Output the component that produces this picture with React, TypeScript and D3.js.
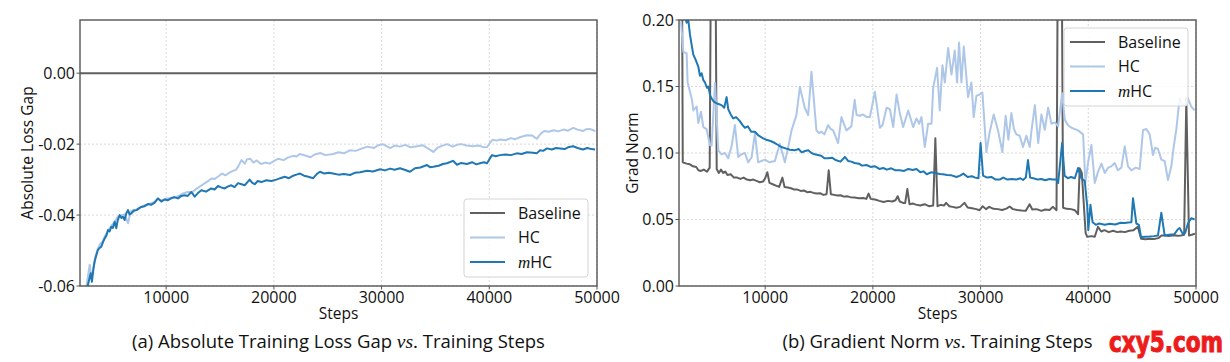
import React from 'react'
import * as d3 from 'd3'

type Pt = [number, number]

// ---- data ----
const seriesNames = ['Baseline', 'HC', 'mHC']
const seriesColors = ['#606060', '#aec7e8', '#1f77b4']

const stepTicks = [10000, 20000, 30000, 40000, 50000]
const stepTickLabels = ['10000', '20000', '30000', '40000', '50000']
const lossTicks = [0, -0.02, -0.04, -0.06]
const lossTickLabels = ['0.00', '-0.02', '-0.04', '-0.06']
const gradTicks = [0, 0.05, 0.1, 0.15, 0.2]
const gradTickLabels = ['0.00', '0.05', '0.10', '0.15', '0.20']

const lossBaseline: Pt[] = [[2000, 0], [50000, 0]]

const lossHC: Pt[] = [
  [2500, -0.0625], [2700, -0.058], [2900, -0.054], [3050, -0.0575], [3200, -0.056], [3400, -0.052],
  [3650, -0.0495], [3900, -0.048], [4100, -0.0475], [4300, -0.046], [4600, -0.0445], [4900, -0.043],
  [5200, -0.042], [5500, -0.0405], [5800, -0.0402], [6100, -0.0398], [6300, -0.041], [6460, -0.0423],
  [6700, -0.039], [7000, -0.0385], [7300, -0.0386], [7700, -0.0377], [8000, -0.0372], [8400, -0.0369],
  [8900, -0.0363], [9200, -0.0355], [9600, -0.0358], [10000, -0.0354], [10400, -0.0352], [10800, -0.0349],
  [11100, -0.0347], [11500, -0.034], [12000, -0.0335], [12400, -0.0336], [12800, -0.0326], [13200, -0.0318],
  [13600, -0.031], [14000, -0.0302], [14200, -0.0297], [14500, -0.0298], [14800, -0.0292], [15200, -0.0283],
  [15500, -0.0288], [15800, -0.0282], [16100, -0.0277], [16500, -0.0272], [16700, -0.0262], [17000, -0.0245],
  [17300, -0.0255], [17500, -0.0243], [17800, -0.0241], [18100, -0.0252], [18400, -0.0246], [18800, -0.0256],
  [19200, -0.0252], [19600, -0.0255], [20000, -0.0248], [20400, -0.0241], [20900, -0.0245], [21300, -0.0238],
  [21800, -0.0233], [22100, -0.0235], [22400, -0.0228], [22900, -0.0232], [23400, -0.0237], [23800, -0.0229],
  [24300, -0.0225], [24800, -0.0231], [25500, -0.0228], [26000, -0.0223], [26500, -0.0226], [27100, -0.0217],
  [27600, -0.0219], [28200, -0.0212], [28700, -0.0207], [29300, -0.0211], [29700, -0.0203], [30100, -0.02],
  [30500, -0.0206], [30800, -0.0211], [31200, -0.0204], [31700, -0.0207], [32200, -0.0202], [32700, -0.0209],
  [33300, -0.0206], [33800, -0.0203], [34300, -0.0212], [34800, -0.0222], [35200, -0.021], [35600, -0.0205],
  [36100, -0.02], [36600, -0.0207], [37000, -0.0202], [37400, -0.02], [37900, -0.0204], [38500, -0.0206],
  [39000, -0.0204], [39500, -0.0209], [39800, -0.0208], [40100, -0.0195], [40300, -0.0188], [40700, -0.019],
  [41000, -0.0187], [41500, -0.0189], [42000, -0.0183], [42400, -0.0186], [42900, -0.018], [43500, -0.0175],
  [44000, -0.0176], [44400, -0.0185], [44800, -0.017], [45100, -0.0163], [45500, -0.0165], [46000, -0.0161],
  [46400, -0.0164], [46900, -0.0159], [47300, -0.0162], [47800, -0.0154], [48200, -0.0159], [48700, -0.0163],
  [49000, -0.0158], [49300, -0.0157], [49600, -0.016], [49850, -0.0164],
]

const lossMHC: Pt[] = [
  [2500, -0.063], [2740, -0.0597], [2900, -0.0575], [2990, -0.0564], [3110, -0.0588], [3250, -0.055],
  [3360, -0.0531], [3500, -0.0515], [3670, -0.0498], [3850, -0.0492], [3980, -0.0489], [4150, -0.0475],
  [4290, -0.0466], [4450, -0.0458], [4600, -0.0442], [4750, -0.0446], [4910, -0.0433], [5050, -0.0436],
  [5220, -0.0419], [5370, -0.0437], [5500, -0.0415], [5680, -0.04], [5850, -0.0408], [5990, -0.0405],
  [6150, -0.0414], [6300, -0.0395], [6460, -0.0386], [6600, -0.0398], [6770, -0.0395], [7000, -0.0388],
  [7230, -0.0386], [7450, -0.0381], [7690, -0.0377], [8000, -0.0375], [8310, -0.0369], [8600, -0.0371],
  [8930, -0.0365], [9240, -0.0353], [9550, -0.0362], [9850, -0.0356], [10170, -0.0358], [10500, -0.0352],
  [10790, -0.035], [11100, -0.0353], [11400, -0.0346], [11720, -0.0344], [12000, -0.0346], [12340, -0.0335],
  [12650, -0.0348], [12950, -0.0338], [13270, -0.033], [13700, -0.0334], [14190, -0.0325], [14500, -0.0328],
  [14810, -0.0318], [15100, -0.0322], [15430, -0.0325], [15750, -0.0319], [16050, -0.0316], [16350, -0.0321],
  [16670, -0.031], [17000, -0.0313], [17290, -0.0316], [17550, -0.0307], [17750, -0.03], [18000, -0.0309],
  [18220, -0.0313], [18500, -0.0304], [18840, -0.0307], [19300, -0.0302], [19760, -0.0304], [20230, -0.03],
  [20600, -0.0296], [21000, -0.0292], [21400, -0.0296], [21800, -0.0289], [22100, -0.0286], [22430, -0.0283],
  [22800, -0.0289], [23200, -0.0292], [23650, -0.0296], [24000, -0.0284], [24280, -0.0278], [24700, -0.0283],
  [25100, -0.0281], [25490, -0.0283], [26000, -0.0286], [26500, -0.0284], [27070, -0.0287], [27500, -0.0281],
  [28000, -0.0279], [28650, -0.0275], [29200, -0.0277], [29860, -0.0271], [30300, -0.0274], [30800, -0.0269],
  [31200, -0.0272], [31710, -0.0268], [32200, -0.0273], [32640, -0.0278], [33100, -0.0268], [33600, -0.0266],
  [34220, -0.0259], [34500, -0.0265], [34800, -0.0264], [35300, -0.0261], [35700, -0.0256], [36070, -0.0254],
  [36630, -0.0247], [37000, -0.0258], [37400, -0.0253], [37930, -0.0256], [38400, -0.0251], [38800, -0.0257],
  [39140, -0.0254], [39500, -0.0251], [39790, -0.0254], [40000, -0.0243], [40250, -0.0231], [40600, -0.0234],
  [41000, -0.0231], [41500, -0.0229], [42000, -0.0231], [42550, -0.0226], [43000, -0.0228], [43500, -0.0223],
  [44060, -0.0224], [44400, -0.0226], [44710, -0.0217], [45000, -0.0219], [45360, -0.0212], [45800, -0.0215],
  [46200, -0.0211], [46570, -0.0212], [47000, -0.0214], [47400, -0.0208], [47780, -0.0206], [48200, -0.0211],
  [48700, -0.0215], [49100, -0.0211], [49500, -0.0214], [49820, -0.0215],
]

const gradBaseline: Pt[] = [
  [2000, 0.3], [2250, 0.3], [2350, 0.093], [2700, 0.092], [3000, 0.0915], [3300, 0.09], [3600, 0.0895],
  [3800, 0.087], [4000, 0.0865], [4300, 0.0875], [4600, 0.086], [4850, 0.089], [5000, 0.3], [5350, 0.3],
  [5500, 0.088], [5700, 0.085], [5900, 0.0875], [6100, 0.085], [6300, 0.086], [6500, 0.0835], [6800, 0.084],
  [7100, 0.0815], [7400, 0.0815], [7700, 0.0805], [8000, 0.0815], [8300, 0.08], [8600, 0.0795], [8900, 0.08],
  [9200, 0.079], [9500, 0.078], [9800, 0.0785], [10000, 0.081], [10200, 0.0855], [10400, 0.0775],
  [10700, 0.0765], [11000, 0.0755], [11300, 0.0745], [11600, 0.0815], [11800, 0.0745], [12100, 0.074],
  [12400, 0.0735], [12700, 0.0725], [13000, 0.0725], [13300, 0.0715], [13600, 0.0718], [13900, 0.0705],
  [14200, 0.0708], [14500, 0.07], [14800, 0.0695], [15100, 0.0698], [15400, 0.0685], [15700, 0.069],
  [15900, 0.087], [16100, 0.069], [16400, 0.0685], [16700, 0.068], [17000, 0.0682], [17300, 0.0672],
  [17600, 0.0675], [17900, 0.0668], [18300, 0.0665], [18700, 0.066], [19100, 0.0662], [19400, 0.0655],
  [19600, 0.0695], [19800, 0.0655], [20200, 0.065], [20600, 0.064], [21000, 0.0632], [21400, 0.064],
  [21800, 0.0635], [22100, 0.0645], [22300, 0.0675], [22500, 0.0635], [22800, 0.0625], [23000, 0.0625],
  [23200, 0.073], [23400, 0.0615], [23700, 0.062], [24000, 0.0612], [24400, 0.0605], [24800, 0.0615],
  [25200, 0.06], [25600, 0.0605], [25800, 0.111], [26000, 0.06], [26300, 0.061], [26600, 0.0605],
  [26800, 0.0625], [27100, 0.06], [27400, 0.0595], [27750, 0.0588], [28100, 0.0595], [28500, 0.0625],
  [28800, 0.059], [29200, 0.0585], [29600, 0.0578], [29900, 0.057], [30200, 0.06], [30500, 0.0578],
  [30800, 0.0595], [31200, 0.058], [31600, 0.0578], [32000, 0.0572], [32400, 0.0582], [32700, 0.0598],
  [33000, 0.0578], [33400, 0.0572], [33800, 0.0568], [34200, 0.0565], [34550, 0.0615], [34800, 0.0575],
  [35200, 0.0578], [35650, 0.0565], [36000, 0.0575], [36400, 0.0572], [36700, 0.0595], [37050, 0.057],
  [37200, 0.3], [37500, 0.3], [37660, 0.0588], [38000, 0.058], [38400, 0.0578], [38750, 0.057],
  [39050, 0.054], [39200, 0.0885], [39400, 0.085], [39750, 0.04], [39900, 0.037], [40300, 0.0375],
  [40600, 0.037], [40900, 0.0445], [41200, 0.041], [41500, 0.042], [41900, 0.0405], [42300, 0.0415],
  [42700, 0.0405], [43000, 0.041], [43400, 0.0405], [43800, 0.0415], [44200, 0.042], [44600, 0.0445],
  [44900, 0.0355], [45300, 0.0352], [45700, 0.0355], [46100, 0.0353], [46500, 0.036], [46800, 0.038],
  [47100, 0.038], [47500, 0.0375], [47900, 0.0382], [48300, 0.0378], [48600, 0.038], [48900, 0.0385],
  [49100, 0.141], [49350, 0.038], [49600, 0.0385], [49900, 0.0393],
]

const gradHC: Pt[] = [
  [2190, 0.199], [2400, 0.176], [2710, 0.175], [2800, 0.153], [3020, 0.146], [3200, 0.14], [3330, 0.132],
  [3640, 0.135], [3790, 0.1225], [4040, 0.131], [4260, 0.1195], [4560, 0.118], [4870, 0.106], [5030, 0.1055],
  [5340, 0.1526], [5650, 0.102], [5950, 0.099], [6260, 0.1], [6570, 0.096], [6880, 0.105], [7190, 0.121],
  [7500, 0.097], [7800, 0.099], [8120, 0.1], [8430, 0.093], [8750, 0.097], [9050, 0.115], [9350, 0.093],
  [9650, 0.094], [9970, 0.095], [10400, 0.093], [10900, 0.094], [11360, 0.107], [11830, 0.093],
  [12150, 0.105], [12450, 0.117], [12900, 0.1285], [13220, 0.1496], [13680, 0.134], [13990, 0.1285],
  [14300, 0.161], [14760, 0.117], [15000, 0.115], [15230, 0.116], [15500, 0.114], [15840, 0.121],
  [16100, 0.118], [16310, 0.117], [16770, 0.1075], [17080, 0.127], [17540, 0.117], [18000, 0.12],
  [18310, 0.14], [18490, 0.1285], [18800, 0.128], [19100, 0.129], [19400, 0.127], [19720, 0.127],
  [20190, 0.146], [20650, 0.119], [20900, 0.121], [21270, 0.134], [21580, 0.133], [21890, 0.1195],
  [22200, 0.144], [22500, 0.13], [22810, 0.1195], [23280, 0.132], [23740, 0.1195], [24050, 0.126],
  [24300, 0.122], [24510, 0.127], [24820, 0.1045], [25130, 0.122], [25440, 0.122], [25600, 0.149],
  [25960, 0.164], [26210, 0.132], [26460, 0.166], [26680, 0.153], [26990, 0.179], [27300, 0.159],
  [27600, 0.177], [27820, 0.153], [28000, 0.183], [28220, 0.153], [28440, 0.18], [28840, 0.142],
  [29150, 0.153], [29360, 0.127], [29610, 0.143], [29900, 0.144], [30170, 0.1455], [30540, 0.1007],
  [30850, 0.116], [31220, 0.129], [31620, 0.117], [32020, 0.1007], [32330, 0.128], [32580, 0.11],
  [32860, 0.13], [33100, 0.118], [33320, 0.114], [33630, 0.113], [33940, 0.1045], [34250, 0.113],
  [34560, 0.1045], [34730, 0.117], [35040, 0.136], [35350, 0.1075], [35650, 0.129], [35960, 0.1175],
  [36270, 0.134], [36580, 0.122], [36890, 0.123], [37200, 0.12], [37570, 0.145], [37820, 0.125],
  [38100, 0.121], [38440, 0.119], [38750, 0.118], [39050, 0.117], [39520, 0.114], [39730, 0.0775],
  [39980, 0.093], [40290, 0.106], [40600, 0.0775], [40910, 0.086], [41220, 0.092], [41530, 0.085],
  [41850, 0.089], [42140, 0.09], [42450, 0.0925], [42750, 0.087], [43070, 0.089], [43380, 0.105],
  [43690, 0.09], [44000, 0.087], [44400, 0.089], [44770, 0.088], [45080, 0.1173], [45390, 0.118],
  [45700, 0.114], [46010, 0.0985], [46200, 0.104], [46470, 0.103], [46780, 0.095], [47090, 0.094],
  [47400, 0.0797], [47710, 0.09], [47900, 0.103], [48170, 0.1175], [48480, 0.1413], [48700, 0.137],
  [48940, 0.136], [49250, 0.141], [49550, 0.135], [49870, 0.132],
]

const gradMHC: Pt[] = [
  [2000, 0.23], [2300, 0.215], [2500, 0.205], [2710, 0.198], [2850, 0.201], [3020, 0.189], [3200, 0.18],
  [3330, 0.174], [3550, 0.17], [3790, 0.165], [3950, 0.158], [4100, 0.16], [4250, 0.155], [4410, 0.153],
  [4600, 0.149], [4720, 0.15], [4900, 0.143], [5030, 0.141], [5200, 0.139], [5340, 0.138], [5600, 0.137],
  [5950, 0.136], [6200, 0.134], [6420, 0.142], [6570, 0.133], [6800, 0.129], [7040, 0.126], [7300, 0.127],
  [7650, 0.124], [7900, 0.121], [8120, 0.119], [8400, 0.12], [8700, 0.116], [9050, 0.116], [9400, 0.113],
  [9820, 0.111], [10100, 0.11], [10500, 0.109], [10900, 0.1075], [11200, 0.106], [11500, 0.1045],
  [11900, 0.1035], [12300, 0.1025], [12750, 0.102], [13100, 0.103], [13400, 0.1005], [13700, 0.1015],
  [14000, 0.102], [14300, 0.1], [14600, 0.099], [14900, 0.0985], [15200, 0.098], [15500, 0.096],
  [15850, 0.096], [16200, 0.0965], [16600, 0.0945], [17000, 0.0935], [17400, 0.097], [17700, 0.094],
  [18000, 0.0935], [18300, 0.0925], [18700, 0.092], [19000, 0.0905], [19400, 0.091], [19800, 0.0895],
  [20200, 0.09], [20600, 0.088], [20960, 0.0887], [21300, 0.0875], [21700, 0.0885], [22100, 0.087],
  [22500, 0.087], [22900, 0.0865], [23300, 0.088], [23700, 0.0872], [24050, 0.088], [24400, 0.0855],
  [24700, 0.0862], [25000, 0.084], [25400, 0.0855], [25800, 0.085], [26200, 0.0842], [26500, 0.084],
  [26900, 0.0835], [27300, 0.0832], [27760, 0.082], [28100, 0.083], [28400, 0.0845], [28800, 0.082],
  [29200, 0.0825], [29500, 0.0815], [29800, 0.081], [30000, 0.1075], [30230, 0.083], [30600, 0.0815],
  [31000, 0.082], [31400, 0.08], [31770, 0.08], [32100, 0.0815], [32500, 0.08], [32900, 0.0805],
  [33300, 0.08], [33700, 0.081], [33940, 0.0797], [34200, 0.0815], [34400, 0.0947], [34600, 0.0815],
  [34900, 0.081], [35300, 0.08], [35650, 0.0805], [36000, 0.0795], [36400, 0.0805], [36700, 0.08],
  [37050, 0.08], [37200, 0.0774], [37570, 0.1075], [37800, 0.083], [38100, 0.081], [38400, 0.082],
  [38750, 0.081], [39050, 0.0887], [39360, 0.081], [39670, 0.079], [39900, 0.06], [40000, 0.042],
  [40200, 0.061], [40400, 0.048], [40700, 0.046], [41000, 0.047], [41530, 0.046], [42000, 0.0468],
  [42500, 0.0462], [43000, 0.0475], [43380, 0.0474], [43700, 0.0478], [44000, 0.048], [44150, 0.066],
  [44460, 0.047], [44700, 0.046], [44900, 0.0368], [45300, 0.037], [45700, 0.0372], [46100, 0.0375],
  [46470, 0.038], [46780, 0.055], [47090, 0.038], [47500, 0.0385], [48000, 0.039], [48300, 0.0425],
  [48480, 0.0436], [48790, 0.039], [49000, 0.04], [49250, 0.047], [49560, 0.051], [49870, 0.05],
]

const FONT = "'Open Sans', 'DejaVu Sans', sans-serif"
const MATH = "'Liberation Serif', 'DejaVu Serif', serif"

interface PanelProps {
  id: string
  x0: number
  x1: number
  y0: number
  y1: number
  yDomain: [number, number]
  yTicks: number[]
  yTickLabels: string[]
  yLabel: string
  yLabelX: number
  series: Pt[][]
  legendX: number
  legendY: number
  captionHead: string
}

function Panel(p: PanelProps) {
  const x = d3.scaleLinear().domain([2000, 50000]).range([p.x0, p.x1])
  const y = d3.scaleLinear().domain(p.yDomain).range([p.y1, p.y0])
  const line = d3.line<Pt>().x(d => x(d[0])).y(d => y(d[1]))
  const spine = '#555'
  const cx = (p.x0 + p.x1) / 2
  const cy = (p.y0 + p.y1) / 2
  return (
    <g>
      <defs>
        <clipPath id={p.id}>
          <rect x={p.x0} y={p.y0} width={p.x1 - p.x0} height={p.y1 - p.y0} />
        </clipPath>
      </defs>
      {/* grid */}
      <g stroke="#cfcfcf" strokeWidth={0.8} strokeDasharray="2,2">
        {stepTicks.map(t => (
          <line key={'gx' + t} x1={x(t)} x2={x(t)} y1={p.y0} y2={p.y1} />
        ))}
        {p.yTicks.map(t => (
          <line key={'gy' + t} x1={p.x0} x2={p.x1} y1={y(t)} y2={y(t)} />
        ))}
      </g>
      {/* series */}
      <g clipPath={`url(#${p.id})`} fill="none" strokeLinejoin="round">
        {p.series.map((s, i) => (
          <path key={i} d={line(s) || ''} stroke={seriesColors[i]} strokeWidth={2} />
        ))}
      </g>
      {/* spines */}
      <rect x={p.x0} y={p.y0} width={p.x1 - p.x0} height={p.y1 - p.y0} fill="none" stroke={spine} strokeWidth={1.4} />
      {/* ticks */}
      <g stroke={spine} strokeWidth={1}>
        {stepTicks.map(t => (
          <line key={'tx' + t} x1={x(t)} x2={x(t)} y1={p.y1} y2={p.y1 + 3.5} />
        ))}
        {p.yTicks.map(t => (
          <line key={'ty' + t} x1={p.x0 - 3.5} x2={p.x0} y1={y(t)} y2={y(t)} />
        ))}
      </g>
      <g fontFamily={FONT} fontSize={16} fill="#111">
        {stepTicks.map((t, i) => (
          <text key={'lx' + t} x={x(t)} y={p.y1 + 17} textAnchor="middle">{stepTickLabels[i]}</text>
        ))}
        {p.yTicks.map((t, i) => (
          <text key={'ly' + t} x={p.x0 - 5} y={y(t) + 5.8} textAnchor="end">{p.yTickLabels[i]}</text>
        ))}
      </g>
      <text x={cx} y={p.y1 + 33} textAnchor="middle" fontFamily={FONT} fontSize={15.5} fill="#111">Steps</text>
      <text transform={`translate(${p.yLabelX},${cy}) rotate(-90)`} textAnchor="middle" fontFamily={FONT} fontSize={15.5} fill="#111">{p.yLabel}</text>
      {/* legend */}
      <g transform={`translate(${p.legendX},${p.legendY})`}>
        <rect x={0} y={0} width={124} height={78} rx={3} fill="#fff" fillOpacity={0.85} stroke="#d4d4d4" strokeWidth={1} />
        {seriesNames.map((n, i) => (
          <g key={n} transform={`translate(0,${14 + i * 24.5})`}>
            <line x1={6} x2={41} y1={0} y2={0} stroke={seriesColors[i]} strokeWidth={2} />
            <text x={54} y={5.8} fontFamily={FONT} fontSize={16} fill="#111">
              {n === 'mHC' ? (
                <>
                  <tspan fontFamily={MATH} fontStyle="italic" fontSize={17}>m</tspan>
                  <tspan>HC</tspan>
                </>
              ) : n}
            </text>
          </g>
        ))}
      </g>
      <text x={cx} y={348} textAnchor="middle" fontFamily={FONT} fontSize={18.5} fill="#111">
        <tspan>{p.captionHead + ' '}</tspan>
        <tspan fontFamily={MATH} fontStyle="italic" fontSize={19.5}>vs</tspan>
        <tspan fontFamily={MATH} fontSize={19.5}>.</tspan>
        <tspan>{'  Training Steps'}</tspan>
      </text>
    </g>
  )
}

export default function App() {
  return (
    <svg width={1230} height={362} style={{ position: 'absolute', left: 0, top: 0, background: '#fff' }}>
      <rect width={1230} height={362} fill="#fff" />
      <Panel
        id="clipLoss" x0={80} x1={597} y0={20} y1={286}
        yDomain={[-0.06, 0.015]} yTicks={lossTicks} yTickLabels={lossTickLabels}
        yLabel="Absolute Loss Gap" yLabelX={33}
        series={[lossBaseline, lossHC, lossMHC]}
        legendX={464} legendY={199}
        captionHead="(a) Absolute Training Loss Gap"
      />
      <Panel
        id="clipGrad" x0={679} x1={1196} y0={20} y1={286}
        yDomain={[0, 0.2]} yTicks={gradTicks} yTickLabels={gradTickLabels}
        yLabel="Grad Norm" yLabelX={638}
        series={[gradBaseline, gradHC, gradMHC]}
        legendX={1064} legendY={28}
        captionHead="(b) Gradient Norm"
      />
      <g transform="translate(1109,352) scale(1,1.2)">
        <text x={0} y={0} fontFamily="'DejaVu Sans Condensed', 'DejaVu Sans', sans-serif" fontWeight="bold"
          fontSize={23} fill="#ee1b1b" stroke="#ee1b1b" strokeWidth={0.8}
          textLength={114} lengthAdjust="spacingAndGlyphs">cxy5.com</text>
      </g>
    </svg>
  )
}
